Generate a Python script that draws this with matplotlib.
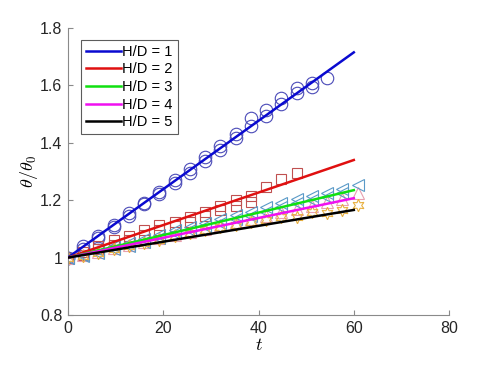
import numpy as np
import matplotlib
matplotlib.use("Agg")
import matplotlib.pyplot as plt

plt.rcParams['font.family'] = ['Liberation Sans', 'DejaVu Sans']
plt.rcParams['mathtext.fontset'] = 'cm'

# sample times (about every 3.2 time units)
t_all = [0, 3.2, 6.4, 9.6, 12.8, 16, 19.2, 22.4, 25.6, 28.8,
         32, 35.2, 38.4, 41.6, 44.8, 48, 51.2, 54.4, 57.6, 60.8]

# H/D = 1, circles (two runs)
hd1_a = [1.0, 1.04, 1.075, 1.115, 1.155, 1.19, 1.23, 1.27, 1.31, 1.35,
         1.39, 1.43, 1.485, 1.515, 1.555, 1.59, 1.61, 1.625]
hd1_b = [1.0, 1.03, 1.07, 1.105, 1.145, 1.185, 1.22, 1.26, 1.295, 1.335,
         1.375, 1.415, 1.46, 1.495, 1.535, 1.575, 1.595]

# H/D = 2, squares
hd2_a = [1.0, 1.02, 1.04, 1.06, 1.075, 1.095, 1.115, 1.125, 1.14, 1.16,
         1.18, 1.20, 1.215, 1.245, 1.275, 1.295]
hd2_b = [1.0, 1.01, 1.03, 1.045, 1.06, 1.08, 1.095, 1.11, 1.125, 1.145,
         1.165, 1.18, 1.195]

# H/D = 3, left triangles
hd3_a = [1.0, 1.01, 1.025, 1.04, 1.05, 1.065, 1.08, 1.095, 1.105, 1.12,
         1.135, 1.15, 1.16, 1.175, 1.19, 1.205, 1.215, 1.225, 1.24, 1.253]
hd3_b = [1.0, 1.005, 1.015, 1.03, 1.04, 1.055, 1.07, 1.085, 1.095, 1.11,
         1.12, 1.135, 1.145, 1.16, 1.175, 1.19, 1.2, 1.21, 1.225]

# H/D = 4, up triangles
hd4 = [1.0, 1.01, 1.02, 1.035, 1.045, 1.055, 1.07, 1.08, 1.09, 1.10,
       1.115, 1.125, 1.135, 1.145, 1.16, 1.17, 1.18, 1.195, 1.205, 1.225]

# H/D = 5, hexagrams
hd5 = [1.0, 1.005, 1.015, 1.03, 1.04, 1.05, 1.06, 1.075, 1.085, 1.095,
       1.105, 1.115, 1.125, 1.13, 1.14, 1.14, 1.158, 1.155, 1.166, 1.183]

# fitted lines
fit_t = [0, 60]
fit_vals = [[1.0, 1.715], [1.0, 1.34], [1.0, 1.235], [1.0, 1.207], [1.0, 1.166]]
fit_labels = ['H/D = 1', 'H/D = 2', 'H/D = 3', 'H/D = 4', 'H/D = 5']
fit_colors = ['#0a0ad0', '#e01010', '#10e010', '#f010f0', '#000000']

xticks = [0, 20, 40, 60, 80]
yticks = [0.8, 1.0, 1.2, 1.4, 1.6, 1.8]
ytick_labels = ['0.8', '1', '1.2', '1.4', '1.6', '1.8']

fig = plt.figure(figsize=(4.85, 3.68), dpi=100)
ax = fig.add_axes([0.140, 0.144, 0.786, 0.780])

mk = dict(linestyle='none', fillstyle='none', markeredgewidth=0.8)
ax.plot(t_all[:len(hd1_a)], hd1_a, marker='o', ms=9, color='#4a4ab8', **mk)
ax.plot(t_all[:len(hd1_b)], hd1_b, marker='o', ms=9, color='#4a4ab8', **mk)
ax.plot(t_all[:len(hd2_a)], hd2_a, marker='s', ms=7.5, color='#c05050', **mk)
ax.plot(t_all[:len(hd2_b)], hd2_b, marker='s', ms=7.5, color='#c05050', **mk)
ax.plot(t_all[:len(hd4)], hd4, marker='^', ms=8.5, color='#e8a0b0', **mk)
ax.plot(t_all[:len(hd3_a)], hd3_a, marker='<', ms=8.5, color='#5a9ac8', **mk)
ax.plot(t_all[:len(hd3_b)], hd3_b, marker='<', ms=8.5, color='#5a9ac8', **mk)
ax.plot(t_all[:len(hd5)], hd5, marker=(6, 1, 0), ms=9, color='#e8b040',
        linestyle='none', markerfacecolor='none', markeredgewidth=0.8)

for vals, lab, col in zip(fit_vals, fit_labels, fit_colors):
    ax.plot(fit_t, vals, color=col, lw=1.8, label=lab, zorder=5)

ax.set_xlim(0, 80)
ax.set_ylim(0.8, 1.8)
ax.set_xticks(xticks)
ax.set_yticks(yticks)
ax.set_yticklabels(ytick_labels)

for s in ['top', 'right']:
    ax.spines[s].set_visible(False)
for s in ['left', 'bottom']:
    ax.spines[s].set_color('#8a8a8a')
    ax.spines[s].set_linewidth(0.8)
ax.tick_params(direction='in', length=3.5, width=0.8, color='#8a8a8a',
               labelcolor='#262626', labelsize=11.5, pad=4)

ax.set_xlabel(r'$t$', fontsize=13, labelpad=1)
ax.set_ylabel(r'$\theta/\theta_0$', fontsize=13, labelpad=0)

leg = ax.legend(loc='upper left', bbox_to_anchor=(0.015, 0.985), fontsize=10.5,
                handlelength=2.4, handletextpad=0.1, labelspacing=0.25,
                borderpad=0.35, frameon=True, fancybox=False)
leg.get_frame().set_edgecolor('#333333')
leg.get_frame().set_linewidth(0.8)

fig.savefig('out.png', dpi=100)
